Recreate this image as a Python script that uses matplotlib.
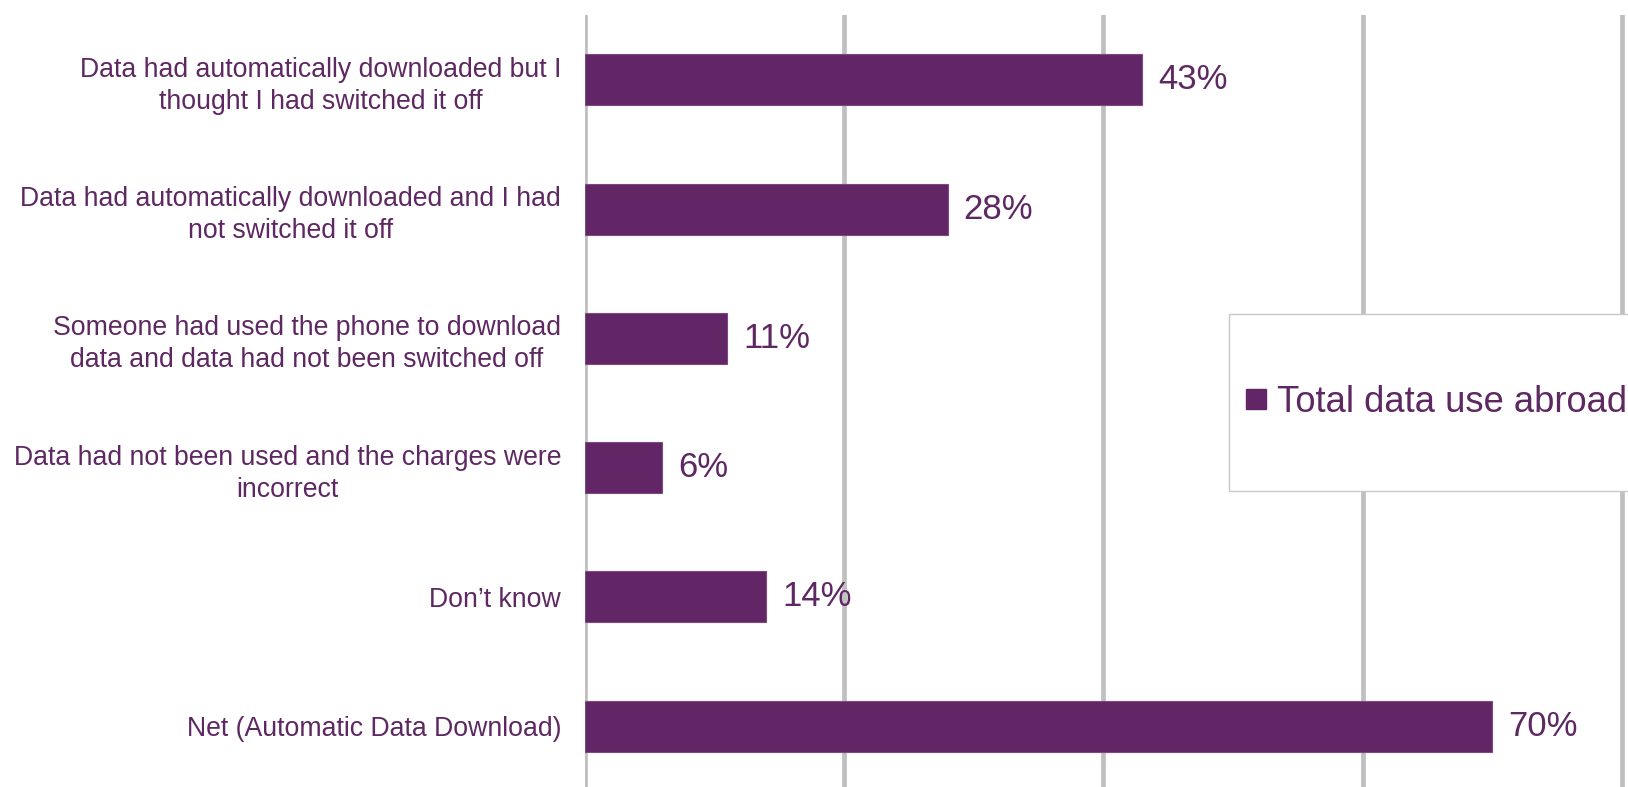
import numpy as np
import matplotlib
matplotlib.use("Agg")
import matplotlib.pyplot as plt
from matplotlib.lines import Line2D
from matplotlib.patches import Rectangle

plt.rcParams['font.family'] = ['Liberation Sans', 'DejaVu Sans']

categories = [
    "Data had automatically downloaded but I\nthought I had switched it off",
    "Data had automatically downloaded and I had\nnot switched it off",
    "Someone had used the phone to download\ndata and data had not been switched off",
    "Data had not been used and the charges were\nincorrect",
    "Don\u2019t know",
    "Net (Automatic Data Download)",
]
values = [43, 28, 11, 6, 14, 70]
series_name = "Total data use abroad"

purple = "#622566"
text_purple = "#5e2862"
grid_grey = "#c0c0c0"

fig = plt.figure(figsize=(16.28, 7.87), dpi=100)
ax = fig.add_axes([0.3591, -0.0047, 0.6409, 0.9853])

y = np.arange(len(categories))
ax.barh(y, values, height=0.394, color=purple, edgecolor="#7c4a7f",
        linewidth=0.8, zorder=3)

for yi, v in zip(y, values):
    ax.annotate(f"{v}%", xy=(v, yi), xytext=(11.5, 0), textcoords="offset points",
                ha="left", va="center", fontsize=25, color=text_purple)

ax.set_xlim(0, 80.46)
ax.set_ylim(len(categories) - 0.5, -0.5)
ax.set_xticks([0, 20, 40, 60, 80])
ax.set_xticklabels([])
ax.set_yticks(y)
ax.set_yticklabels(categories, fontsize=19.2, color=text_purple)
for lab in ax.get_yticklabels():
    lab.set_multialignment("center")
    lab.set_linespacing(1.3)
ax.tick_params(axis="both", length=0)
ax.tick_params(axis="y", pad=17)
ax.grid(axis="x", color=grid_grey, linewidth=3.4, zorder=0)
ax.set_axisbelow(True)
for s in ax.spines.values():
    s.set_visible(False)

# legend frame, partly outside the figure on the right
box = Rectangle((0.755, 0.376), 0.3, 0.2244, transform=fig.transFigure,
                facecolor="white", edgecolor="#c8c8c8", linewidth=1.0, zorder=5)
fig.patches.append(box)
handle = Line2D([], [], marker="s", linestyle="", color=purple, markersize=14.4)
leg = fig.legend([handle], [series_name], loc="center left",
                 bbox_to_anchor=(0.7645, 0.4885), frameon=False, fontsize=26.2,
                 labelcolor=text_purple, handlelength=0.6, handletextpad=0.3,
                 borderpad=0, borderaxespad=0)
leg.set_zorder(6)

fig.savefig("out.png", dpi=100)
